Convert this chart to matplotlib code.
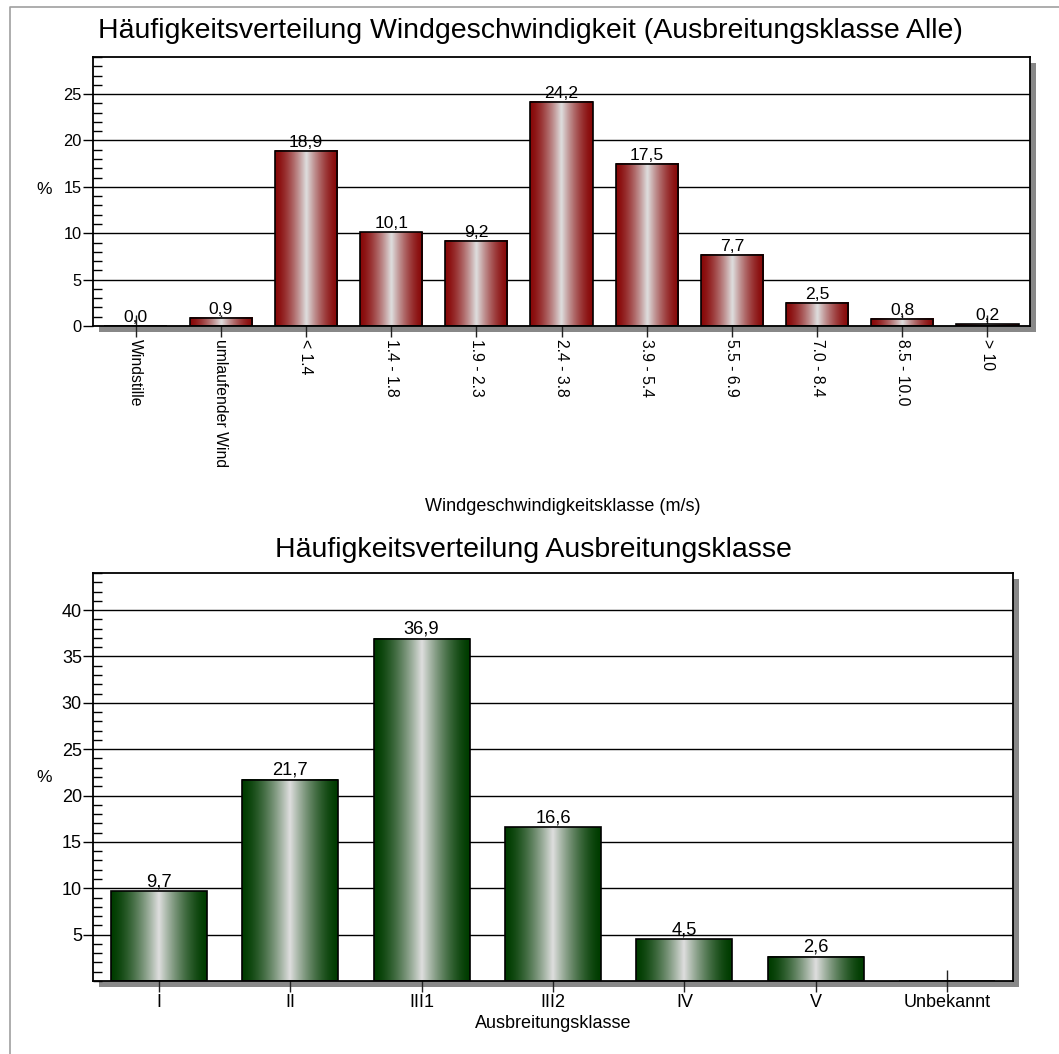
'''
Frequency distributions: wind speed class and stability class
'''

import numpy as np
import matplotlib
matplotlib.use('Agg')
import matplotlib.pyplot as plt
from matplotlib.colors import LinearSegmentedColormap
from matplotlib.patches import Rectangle
from matplotlib.lines import Line2D
from matplotlib.ticker import MultipleLocator

plt.rcParams['font.family'] = ['Liberation Sans', 'DejaVu Sans']

# --- data ---
wind_classes = ['Windstille', 'umlaufender Wind', '< 1.4', '1.4 - 1.8', '1.9 - 2.3',
                '2.4 - 3.8', '3.9 - 5.4', '5.5 - 6.9', '7.0 - 8.4', '8.5 - 10.0', '> 10']
wind_pct = [0.0, 0.9, 18.9, 10.1, 9.2, 24.2, 17.5, 7.7, 2.5, 0.8, 0.2]

stab_classes = ['I', 'II', 'III1', 'III2', 'IV', 'V', 'Unbekannt']
stab_pct = [9.7, 21.7, 36.9, 16.6, 4.5, 2.6, None]   # Unbekannt: no bar

W, H = 1059, 1054
fig = plt.figure(figsize=(W / 100, H / 100), dpi=100)


def fig_rect(left, top, right, bottom):
    # pixel box -> figure fraction [l, b, w, h]
    return [left / W, 1 - bottom / H, (right - left) / W, (bottom - top) / H]


def gradient_cmap(edge):
    center = '#dedede'
    return LinearSegmentedColormap.from_list('g', [edge, center])


def draw_chart(box, cats, vals, edge, ymax, ymin_tick, rotate, fs_tick, fs_val, fs_cat):
    ax = fig.add_axes(fig_rect(*box))
    # drop shadow behind the frame
    l, t, r, b = box
    fig.add_artist(Rectangle(((l + 6) / W, 1 - (b + 6) / H), (r - l) / W, (b - t) / H,
                             transform=fig.transFigure, facecolor='#888888',
                             edgecolor='none', zorder=0))
    x = np.arange(len(cats))
    heights = [0 if v is None else v for v in vals]
    bars = ax.bar(x, heights, width=0.73, facecolor='none', edgecolor='black',
                  linewidth=1.2, zorder=3)
    cmap = gradient_cmap(edge)
    # dark at both sides, light stripe in the middle
    d = np.abs(np.linspace(-1, 1, 256))
    grad = ((1 - d) ** 1.5).reshape(1, -1)
    for p, v in zip(bars.patches, vals):
        if v is None:
            continue
        x0, w, h = p.get_x(), p.get_width(), p.get_height()
        ax.imshow(grad, extent=[x0, x0 + w, 0, h], aspect='auto', cmap=cmap,
                  vmin=0, vmax=1, interpolation='bilinear', zorder=2)
        ax.text(x0 + w / 2, h + 0.1, f'{v:.1f}'.replace('.', ','),
                ha='center', va='bottom', fontsize=fs_val, zorder=4)

    ax.set_xlim(-0.5, len(cats) - 0.5)
    ax.set_ylim(0, ymax)
    ax.set_axisbelow(True)
    ax.yaxis.grid(True, which='major', color='black', linewidth=1)
    ax.yaxis.set_minor_locator(MultipleLocator(1))
    yt = np.arange(ymin_tick, ymax, 5)
    ax.set_yticks(yt)
    ax.set_yticklabels([str(int(v)) for v in yt])
    ax.tick_params(axis='y', which='major', direction='out', length=7, width=1,
                   labelsize=fs_tick, pad=1)
    ax.tick_params(axis='y', which='minor', direction='in', length=6.5, width=1)
    ax.set_xticks(x)
    if rotate:
        ax.set_xticklabels(cats, rotation=270, fontsize=fs_cat)
    else:
        ax.set_xticklabels(cats, fontsize=fs_cat)
    ax.tick_params(axis='x', direction='inout', length=16.5, width=1,
                   color='#222222', pad=1)
    for s in ax.spines.values():
        s.set_linewidth(1.3)
    return ax


# top chart: wind speed classes
ax1 = draw_chart((93, 57, 1030, 326), wind_classes, wind_pct, '#880808', 29, 0, True,
                 11.8, 12.6, 11.3)
# bottom chart: stability classes
ax2 = draw_chart((93, 573, 1013, 981), stab_classes, stab_pct, '#003c00', 44, 5, False,
                 13, 13.2, 13)

fig.text(530 / W, 1 - 31 / H, 'Häufigkeitsverteilung Windgeschwindigkeit (Ausbreitungsklasse Alle)',
         ha='center', va='center', fontsize=20.5)
fig.text(533 / W, 1 - 550 / H, 'Häufigkeitsverteilung Ausbreitungsklasse',
         ha='center', va='center', fontsize=20.5)
fig.text(563 / W, 1 - 507 / H, 'Windgeschwindigkeitsklasse (m/s)',
         ha='center', va='center', fontsize=13)
fig.text(553 / W, 1 - 1024 / H, 'Ausbreitungsklasse',
         ha='center', va='center', fontsize=13)
fig.text(44 / W, 1 - 190 / H, '%', ha='center', va='center', fontsize=12.5)
fig.text(44 / W, 1 - 778 / H, '%', ha='center', va='center', fontsize=12.5)

# thin grey outer border (left and top only visible)
fig.add_artist(Line2D([10 / W, 10 / W, 1], [0, 1 - 7 / H, 1 - 7 / H],
                      transform=fig.transFigure, color='#a0a0a0', linewidth=1.2))

fig.savefig('out.png', dpi=100)
